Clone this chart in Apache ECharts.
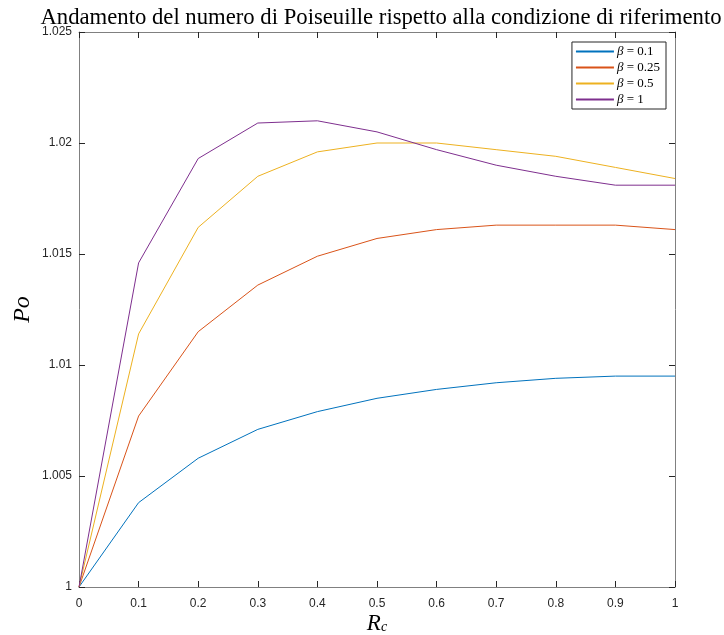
<!DOCTYPE html>
<html>
<head>
<meta charset="utf-8">
<script src="https://cdn.jsdelivr.net/npm/echarts@6/dist/echarts.min.js"></script>
<style>
  html, body { margin: 0; padding: 0; background: #fff; }
  #chart { width: 724px; height: 635px; }
</style>
</head>
<body>
<div id="chart"></div>
<script>
// Curvature ratio R_c (x) and normalised Poiseuille number Po for each beta
const rc = [0, 0.1, 0.2, 0.3, 0.4, 0.5, 0.6, 0.7, 0.8, 0.9, 1.0];
const betaLabels = ['0.1', '0.25', '0.5', '1'];
const poBeta01  = [1, 1.0038, 1.0058, 1.0071, 1.0079, 1.0085, 1.0089, 1.0092, 1.0094, 1.0095, 1.0095];
const poBeta025 = [1, 1.0077, 1.0115, 1.0136, 1.0149, 1.0157, 1.0161, 1.0163, 1.0163, 1.0163, 1.0161];
const poBeta05  = [1, 1.0114, 1.0162, 1.0185, 1.0196, 1.0200, 1.0200, 1.0197, 1.0194, 1.0189, 1.0184];
const poBeta1   = [1, 1.0146, 1.0193, 1.0209, 1.0210, 1.0205, 1.0197, 1.0190, 1.0185, 1.0181, 1.0181];
const seriesValues = [poBeta01, poBeta025, poBeta05, poBeta1];
const colors = ['#0072BD', '#D95319', '#EDB120', '#7E2F8E'];

const serif = 'Liberation Serif';
const sans = 'Liberation Sans';
const axisColor = '#262626';

const chart = echarts.init(document.getElementById('chart'));

const series = seriesValues.map((vals, i) => ({
  name: betaLabels[i],
  type: 'line',
  data: rc.map((x, j) => [x, vals[j]]),
  symbol: 'none',
  lineStyle: { width: 1, color: colors[i] },
  itemStyle: { color: colors[i] },
  xAxisIndex: 0,
  yAxisIndex: 0
}));

const tickInside = { show: true, inside: true, length: 6, lineStyle: { color: axisColor, width: 1 } };
const boxLine = { show: true, onZero: false, lineStyle: { color: '#808080', width: 1 } };

chart.setOption({
  animation: false,
  backgroundColor: '#fff',
  color: colors,
  title: {
    text: 'Andamento del numero di Poiseuille rispetto alla condizione di riferimento',
    left: 376,
    top: 2,
    textAlign: 'center',
    textStyle: { fontFamily: serif, fontWeight: 'normal', fontSize: 22.7, color: '#000' }
  },
  grid: { left: 79, right: 49, top: 32, bottom: 48, outerBoundsMode: 'none', containLabel: false },
  legend: {
    orient: 'vertical',
    right: 58,
    top: 42,
    itemWidth: 38,
    itemHeight: 2,
    itemGap: 3,
    icon: 'rect',
    itemStyle: { borderWidth: 0 },
    padding: [3, 6, 3, 4],
    borderColor: axisColor,
    borderWidth: 1,
    backgroundColor: '#fff',
    data: betaLabels,
    formatter: name => '{b|β} = ' + name,
    textStyle: {
      fontFamily: serif,
      fontSize: 13,
      color: '#000',
      padding: [0, 0, 0, -2],
      rich: { b: { fontFamily: serif, fontStyle: 'italic', fontSize: 13 } }
    }
  },
  xAxis: [
    {
      type: 'value', min: 0, max: 1, interval: 0.1, position: 'bottom',
      axisLine: boxLine, axisTick: tickInside, splitLine: { show: false },
      axisLabel: { fontFamily: sans, fontSize: 12, color: axisColor, margin: 11,
        formatter: v => String(+v.toFixed(1)) },
      name: '{r|R}{s|c}',
      nameLocation: 'middle',
      nameGap: 25,
      nameMoveOverlap: false,
      nameTextStyle: {
        rich: {
          r: { fontFamily: serif, fontStyle: 'italic', fontSize: 23, color: '#000' },
          s: { fontFamily: serif, fontStyle: 'italic', fontSize: 14, color: '#000', padding: [8, 0, 0, 0] }
        }
      }
    },
    {
      type: 'value', min: 0, max: 1, interval: 0.1, position: 'top',
      axisLine: boxLine, axisTick: tickInside, splitLine: { show: false },
      axisLabel: { show: false }
    }
  ],
  yAxis: [
    {
      type: 'value', min: 1, max: 1.025, interval: 0.005, position: 'left',
      axisLine: boxLine, axisTick: tickInside, splitLine: { show: false },
      axisLabel: { fontFamily: sans, fontSize: 12, color: axisColor, margin: 7,
        formatter: v => String(+v.toFixed(3)) },
      name: 'Po',
      nameLocation: 'middle',
      nameGap: 44,
      nameMoveOverlap: false,
      nameRotate: 90,
      nameTextStyle: { fontFamily: serif, fontStyle: 'italic', fontSize: 24, color: '#000' }
    },
    {
      type: 'value', min: 1, max: 1.025, interval: 0.005, position: 'right',
      axisLine: boxLine, axisTick: tickInside, splitLine: { show: false },
      axisLabel: { show: false }
    }
  ],
  series: series
});
</script>
</body>
</html>
